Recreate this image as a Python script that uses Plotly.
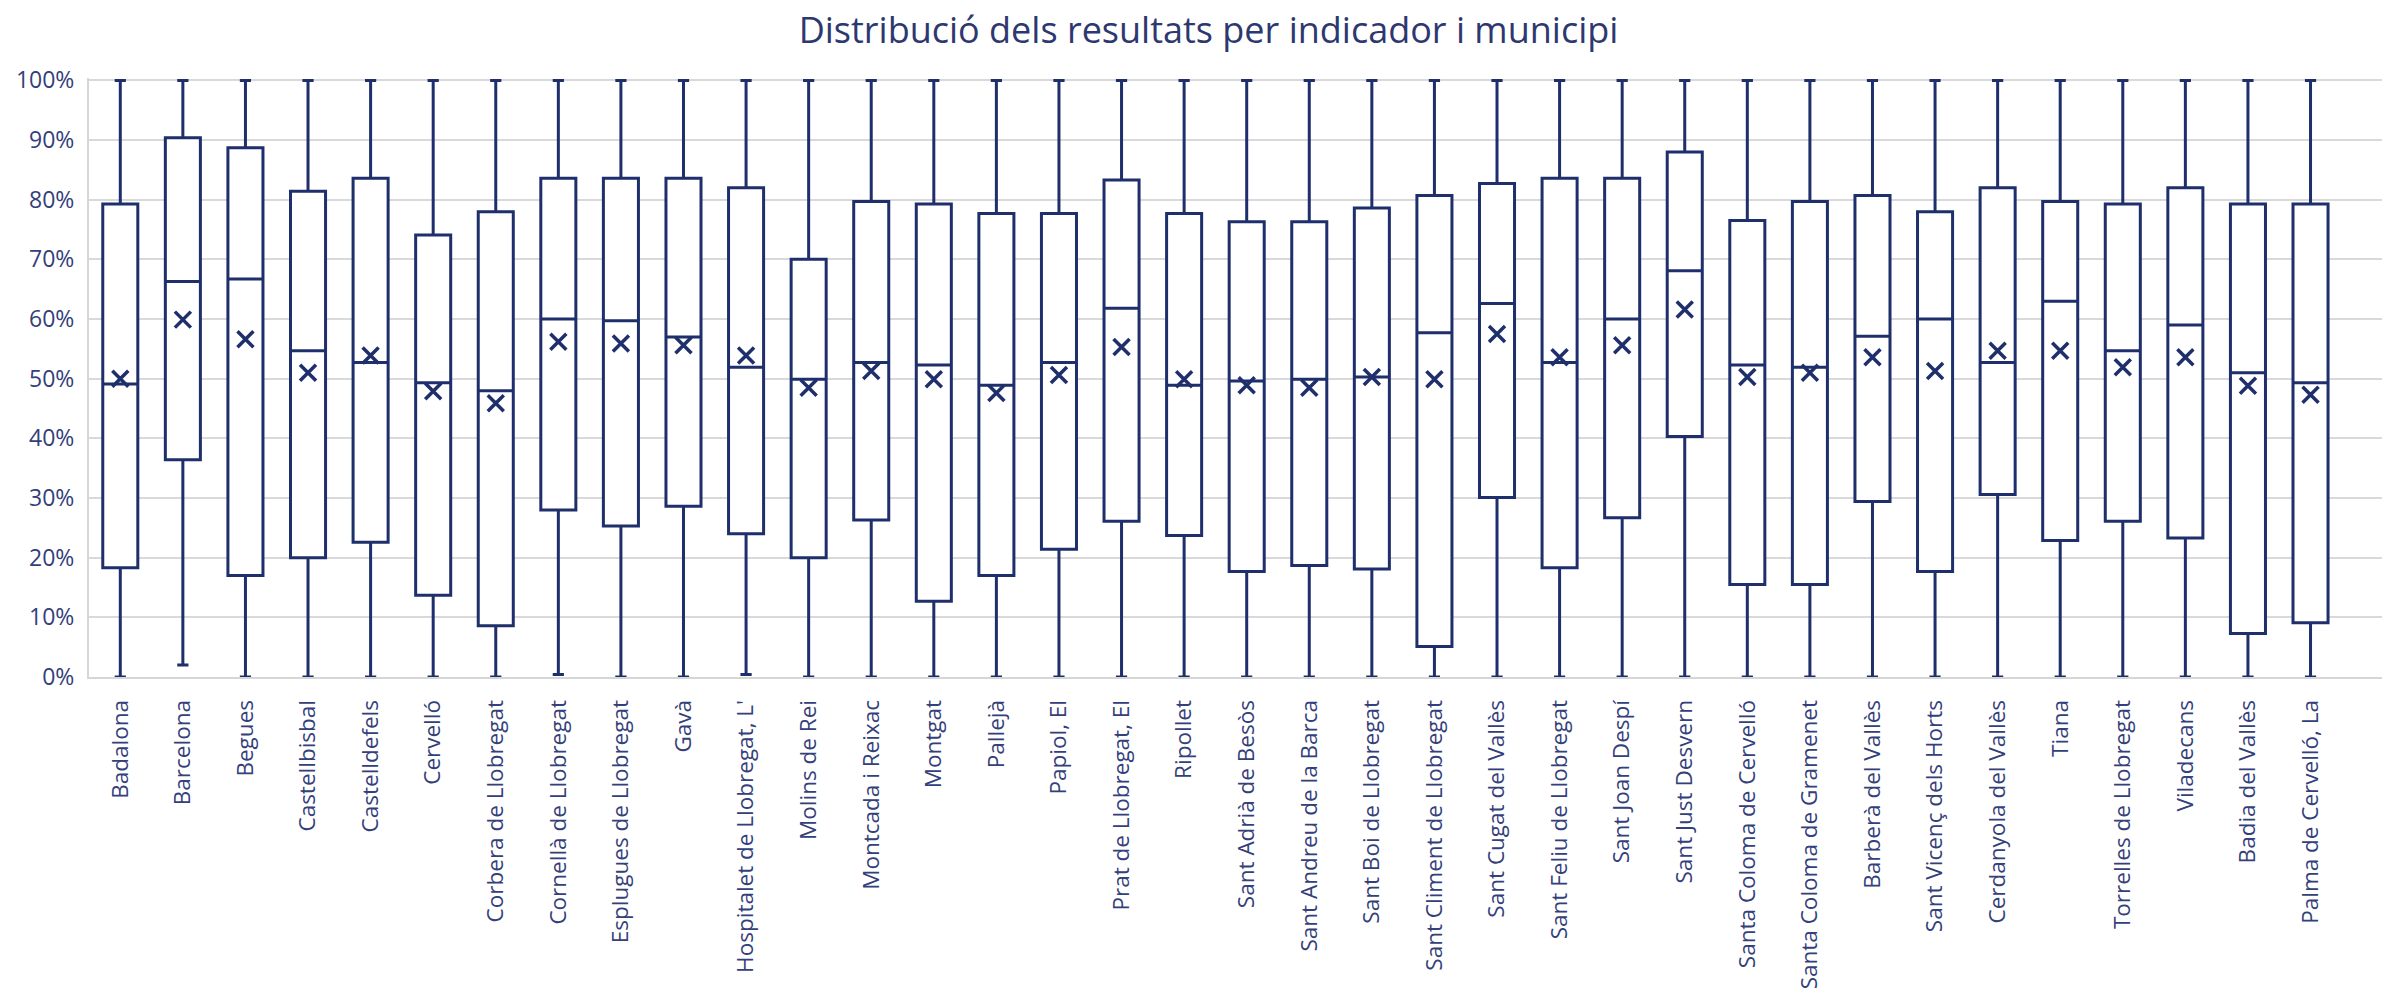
import plotly.graph_objects as go

municipis = [
    "Badalona", "Barcelona", "Begues", "Castellbisbal", "Castelldefels", "Cervelló",
    "Corbera de Llobregat", "Cornellà de Llobregat", "Esplugues de Llobregat", "Gavà",
    "Hospitalet de Llobregat, L'", "Molins de Rei", "Montcada i Reixac", "Montgat",
    "Pallejà", "Papiol, El", "Prat de Llobregat, El", "Ripollet", "Sant Adrià de Besòs",
    "Sant Andreu de la Barca", "Sant Boi de Llobregat", "Sant Climent de Llobregat",
    "Sant Cugat del Vallès", "Sant Feliu de Llobregat", "Sant Joan Despí", "Sant Just Desvern",
    "Santa Coloma de Cervelló", "Santa Coloma de Gramenet", "Barberà del Vallès",
    "Sant Vicenç dels Horts", "Cerdanyola del Vallès", "Tiana", "Torrelles de Llobregat",
    "Viladecans", "Badia del Vallès", "Palma de Cervelló, La",
]

minim = [0.0, 0.02, 0.0, 0.0, 0.0, 0.0, 0.0, 0.004, 0.0, 0.0, 0.004, 0.0, 0.0, 0.0, 0.0, 0.0,
         0.0, 0.0, 0.0, 0.0, 0.0, 0.0, 0.0, 0.0, 0.0, 0.0, 0.0, 0.0, 0.0, 0.0, 0.0, 0.0, 0.0,
         0.0, 0.0, 0.0]
q1 = [0.183, 0.364, 0.170, 0.200, 0.226, 0.137, 0.086, 0.280, 0.253, 0.286, 0.240, 0.200,
      0.263, 0.127, 0.170, 0.214, 0.261, 0.237, 0.177, 0.187, 0.181, 0.051, 0.301, 0.183,
      0.267, 0.403, 0.155, 0.155, 0.294, 0.177, 0.306, 0.229, 0.261, 0.233, 0.073, 0.091]
mediana = [0.491, 0.663, 0.667, 0.547, 0.527, 0.493, 0.480, 0.600, 0.597, 0.570, 0.519, 0.499,
           0.527, 0.523, 0.489, 0.527, 0.618, 0.489, 0.496, 0.499, 0.503, 0.577, 0.626, 0.527,
           0.600, 0.681, 0.523, 0.519, 0.571, 0.600, 0.527, 0.630, 0.547, 0.590, 0.510, 0.493]
q3 = [0.793, 0.904, 0.887, 0.814, 0.836, 0.741, 0.780, 0.836, 0.836, 0.836, 0.820, 0.700,
      0.797, 0.793, 0.777, 0.777, 0.833, 0.777, 0.763, 0.763, 0.786, 0.807, 0.827, 0.836,
      0.836, 0.880, 0.765, 0.797, 0.807, 0.780, 0.820, 0.797, 0.793, 0.820, 0.793, 0.793]
maxim = [1.0] * 36
mitjana = [0.500, 0.599, 0.566, 0.510, 0.539, 0.479, 0.459, 0.562, 0.559, 0.556, 0.539, 0.485,
           0.513, 0.499, 0.476, 0.506, 0.553, 0.499, 0.489, 0.485, 0.503, 0.499, 0.575, 0.536,
           0.556, 0.616, 0.503, 0.510, 0.536, 0.513, 0.547, 0.547, 0.519, 0.536, 0.488, 0.473]

navy = "#1e2f6c"
text_col = "#33407a"

fig = go.Figure()
fig.add_trace(go.Box(
    x=municipis,
    q1=q1, median=mediana, q3=q3,
    lowerfence=minim, upperfence=maxim,
    fillcolor="white",
    line=dict(color=navy, width=3),
    whiskerwidth=0.32,
    boxpoints=False,
    showlegend=False,
    hoverinfo="skip",
))
fig.add_trace(go.Scatter(
    x=municipis, y=mitjana, mode="markers",
    marker=dict(symbol="x-thin-open", size=16, color=navy, line=dict(color=navy, width=3.5)),
    showlegend=False,
))

fig.update_layout(
    width=2382, height=998,
    paper_bgcolor="white", plot_bgcolor="white",
    margin=dict(l=81, r=0, t=70, b=329, autoexpand=False),
    boxgap=0.2,
    font=dict(family="Open Sans", color=text_col),
    title=dict(
        text="Distribució dels resultats per indicador i municipi",
        x=0.504, xanchor="center", y=0.99, yanchor="top",
        font=dict(size=36, color="#2e3870", family="Open Sans"),
    ),
    xaxis=dict(
        type="category", range=[-0.5, 36.27], automargin=False,
        tickangle=-90, tickfont=dict(size=22.5, color=text_col),
        showgrid=False, showline=True, linecolor="#d6d6d6", linewidth=2,
        ticks="outside", ticklen=12, tickcolor="rgba(0,0,0,0)", fixedrange=True,
    ),
    yaxis=dict(
        range=[0, 1.004], tickvals=[i / 10 for i in range(11)], automargin=False,
        tickformat=".0%", tickfont=dict(size=23, color=text_col),
        showgrid=True, gridcolor="#d9d9d9", gridwidth=1.5,
        showline=True, linecolor="#d6d6d6", linewidth=2,
        zeroline=False, ticks="outside", ticklen=8, tickcolor="rgba(0,0,0,0)",
    ),
)

fig.write_html("out.html")
